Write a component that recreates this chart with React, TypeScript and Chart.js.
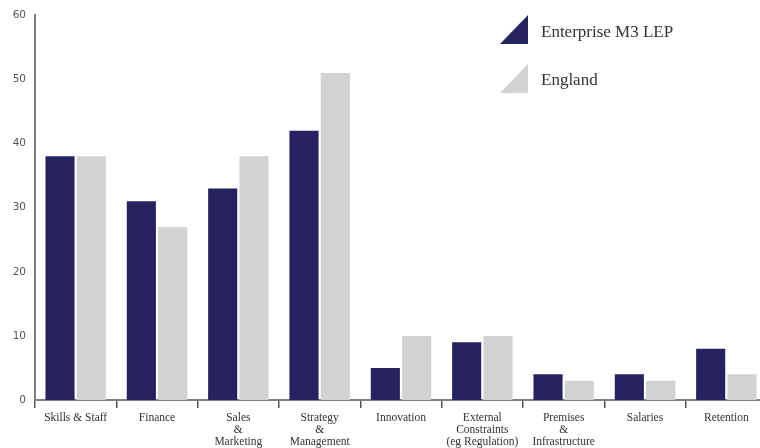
import React, { useEffect, useRef } from "react";
import { Chart, registerables } from "chart.js";

Chart.register(...registerables);

const categories: (string | string[])[] = [
  "Skills & Staff",
  "Finance",
  ["Sales", "&", "Marketing"],
  ["Strategy", "&", "Management"],
  "Innovation",
  ["External", "Constraints", "(eg Regulation)"],
  ["Premises", "&", "Infrastructure"],
  "Salaries",
  "Retention",
];
const enterpriseM3 = [38, 31, 33, 42, 5, 9, 4, 4, 8];
const england = [38, 27, 38, 51, 10, 10, 3, 3, 4];
const seriesNames = ["Enterprise M3 LEP", "England"];
const yTicks = [0, 10, 20, 30, 40, 50, 60];

const NAVY = "#262262";
const GREY = "#d1d2d4";

export default function App() {
  const ref = useRef<HTMLCanvasElement | null>(null);
  useEffect(() => {
    if (!ref.current) return;
    const chart = new Chart(ref.current, {
      type: "bar",
      data: {
        labels: categories,
        datasets: [
          { label: seriesNames[0], data: enterpriseM3, backgroundColor: NAVY, categoryPercentage: 0.77, barPercentage: 0.93 },
          { label: seriesNames[1], data: england, backgroundColor: GREY, categoryPercentage: 0.77, barPercentage: 0.93 },
        ],
      },
      options: {
        animation: false,
        responsive: false,
        maintainAspectRatio: false,
        layout: { padding: { top: 12, right: 0, left: 0, bottom: 0 } },
        plugins: { legend: { display: false }, tooltip: { enabled: false } },
        scales: {
          x: {
            offset: true,
            grid: { display: true, offset: true, drawOnChartArea: false, drawTicks: true, tickLength: 8, color: "#555", lineWidth: 1.5 },
            border: { display: true, color: "#808080", width: 2 },
            ticks: {
              autoSkip: false,
              maxRotation: 0,
              padding: 4,
              color: "#333",
              font: { family: "'Liberation Serif', serif", size: 11.5, lineHeight: 1.04 },
            },
            afterFit: (s: any) => { s.height = 48; },
          },
          y: {
            min: 0,
            max: 60,
            afterBuildTicks: (s: any) => { s.ticks = yTicks.map((v) => ({ value: v })); },
            grid: { display: false, drawTicks: false },
            border: { display: true, color: "#808080", width: 2 },
            ticks: {
              padding: 9,
              color: "#555",
              font: { family: "'DejaVu Sans', sans-serif", size: 10.5 },
            },
            afterFit: (s: any) => { s.width = 35; },
          },
        },
      },
    });
    return () => chart.destroy();
  }, []);

  const tri = (color: string, top: number): React.CSSProperties => ({
    position: "absolute",
    left: 500,
    top,
    width: 28,
    height: 29,
    background: color,
    clipPath: "polygon(100% 0, 100% 100%, 0 100%)",
  });
  const txt = (top: number): React.CSSProperties => ({
    position: "absolute",
    left: 541,
    top,
    fontFamily: "'Liberation Serif', serif",
    fontSize: 17,
    color: "#333",
    lineHeight: "20px",
    whiteSpace: "nowrap",
  });

  return (
    <div style={{ position: "absolute", left: 0, top: 0, width: 760, height: 448, overflow: "hidden", background: "#fff" }}>
      <canvas ref={ref} width={767} height={448} style={{ display: "block" }} />
      <div style={tri(NAVY, 15)} />
      <div style={txt(22)}>{seriesNames[0]}</div>
      <div style={tri(GREY, 64)} />
      <div style={txt(70)}>{seriesNames[1]}</div>
    </div>
  );
}
